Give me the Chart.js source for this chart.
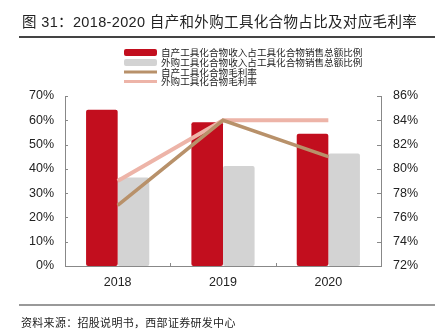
<!DOCTYPE html>
<html>
<head>
<meta charset="utf-8">
<script src="https://cdn.jsdelivr.net/npm/chart.js@4.4.0/dist/chart.umd.min.js"></script>
<style>
  html, body { margin: 0; padding: 0; background: #fff; }
  #wrap { position: relative; width: 439px; height: 335px; overflow: hidden; font-family: "Liberation Sans", Arial, "Noto Sans CJK SC", sans-serif; }
  #title { position: absolute; left: 22px; top: 10px; font-size: 14.5px; letter-spacing: 0.35px; color: #222; white-space: nowrap; font-family: "Liberation Sans", Arial, "Noto Sans CJK SC", sans-serif; }
  #topline { position: absolute; left: 19px; top: 36px; width: 416px; height: 2px; background: #444; }
  #botline { position: absolute; left: 19px; top: 304px; width: 416px; height: 2px; background: #999; }
  #source { position: absolute; left: 21px; top: 314px; font-size: 11px; letter-spacing: 0.3px; color: #222; white-space: nowrap; font-family: "Noto Sans CJK SC", sans-serif; }
  canvas { position: absolute; left: 0; top: 0; }
</style>
</head>
<body>
<div id="wrap">
  <canvas id="c" width="439" height="335"></canvas>
  <div id="title">图 31：2018-2020 自产和外购工具化合物占比及对应毛利率</div>
  <div id="topline"></div>
  <div id="botline"></div>
  <div id="source">资料来源：招股说明书，西部证券研发中心</div>
</div>
<script>
const categories = ['2018', '2019', '2020'];
const seriesNames = [
  '自产工具化合物收入占工具化合物销售总额比例',
  '外购工具化合物收入占工具化合物销售总额比例',
  '自产工具化合物毛利率',
  '外购工具化合物毛利率'
];
const selfShare = [64.3, 59.2, 54.5];
const purchasedShare = [36.4, 41.2, 46.3];
const selfMargin = [77, 84, 81];
const purchasedMargin = [79, 84, 84];
const leftTicks = [0, 10, 20, 30, 40, 50, 60, 70];
const rightTicks = [72, 74, 76, 78, 80, 82, 84, 86];

const RED = '#C20E1E', GRAY = '#D3D3D3', BROWN = '#B8916A', PINK = '#EDB4A8';
const AXIS = '#888888';

const legendPlugin = {
  id: 'customLegend',
  afterDraw(chart) {
    const ctx = chart.ctx;
    const ds = chart.data.datasets;
    const rows = [52.5, 62.5, 72, 81.5];
    ctx.save();
    ctx.font = '9.6px "Noto Sans CJK SC", sans-serif';
    ctx.textBaseline = 'middle';
    ds.forEach((d, i) => {
      const y = rows[i];
      if (d.type === 'bar') {
        ctx.fillStyle = d.backgroundColor;
        ctx.beginPath();
        ctx.roundRect(124, y - 3.5, 33, 7, 2);
        ctx.fill();
      } else {
        ctx.strokeStyle = d.borderColor;
        ctx.lineWidth = 3;
        ctx.beginPath();
        ctx.moveTo(124, y);
        ctx.lineTo(157, y);
        ctx.stroke();
      }
      ctx.fillStyle = '#222';
      ctx.fillText(d.label, 161, y);
    });
    ctx.restore();
  }
};

const tickPlugin = {
  id: 'innerTicks',
  afterDatasetsDraw(chart) {
    const ctx = chart.ctx;
    const ca = chart.chartArea;
    ctx.save();
    ctx.strokeStyle = AXIS;
    ctx.lineWidth = 1;
    const yl = chart.scales.y, yr = chart.scales.y2, x = chart.scales.x;
    yl.ticks.forEach(t => {
      const py = Math.round(yl.getPixelForValue(t.value)) + 0.5;
      ctx.beginPath(); ctx.moveTo(ca.left, py); ctx.lineTo(ca.left + 3, py); ctx.stroke();
    });
    yr.ticks.forEach(t => {
      const py = Math.round(yr.getPixelForValue(t.value)) + 0.5;
      ctx.beginPath(); ctx.moveTo(ca.right, py); ctx.lineTo(ca.right - 4, py); ctx.stroke();
    });
    for (let i = 1; i < categories.length; i++) {
      const px = Math.round((x.getPixelForValue(i - 1) + x.getPixelForValue(i)) / 2) + 0.5;
      ctx.beginPath(); ctx.moveTo(px, ca.bottom); ctx.lineTo(px, ca.bottom - 3); ctx.stroke();
    }
    ctx.restore();
  }
};

new Chart(document.getElementById('c'), {
  data: {
    labels: categories,
    datasets: [
      { type: 'bar', label: seriesNames[0], data: selfShare, backgroundColor: RED, yAxisID: 'y', order: 2,
        categoryPercentage: 0.6, barPercentage: 1.0, borderRadius: 2, borderSkipped: false },
      { type: 'bar', label: seriesNames[1], data: purchasedShare, backgroundColor: GRAY, yAxisID: 'y', order: 2,
        categoryPercentage: 0.6, barPercentage: 1.0, borderRadius: 2, borderSkipped: false },
      { type: 'line', label: seriesNames[2], data: selfMargin, borderColor: BROWN, backgroundColor: BROWN, borderWidth: 3.5,
        pointRadius: 0, yAxisID: 'y2', order: 0, tension: 0 },
      { type: 'line', label: seriesNames[3], data: purchasedMargin, borderColor: PINK, backgroundColor: PINK, borderWidth: 4,
        pointRadius: 0, yAxisID: 'y2', order: 1, tension: 0 }
    ]
  },
  options: {
    responsive: false,
    animation: false,
    layout: { padding: { top: 96, bottom: 0, left: 0, right: 0 } },
    plugins: { legend: { display: false }, tooltip: { enabled: false }, title: { display: false } },
    scales: {
      x: {
        offset: true,
        grid: { display: false, drawTicks: false },
        border: { display: true, color: AXIS, width: 1 },
        ticks: { padding: 9, color: '#222', font: { family: '"Liberation Sans", Arial, sans-serif', size: 12.5 } },
        afterFit(s) { s.height = 69; }
      },
      y: {
        position: 'left', min: 0, max: 70,
        afterBuildTicks(s) { s.ticks = leftTicks.map(v => ({ value: v })); },
        grid: { display: false, drawTicks: false },
        border: { display: true, color: AXIS, width: 1 },
        ticks: { padding: 11, color: '#222', font: { family: '"Liberation Sans", Arial, sans-serif', size: 12.5 },
                 callback: v => v + '%' },
        afterFit(s) { s.width = 65; }
      },
      y2: {
        position: 'right', min: 72, max: 86,
        afterBuildTicks(s) { s.ticks = rightTicks.map(v => ({ value: v })); },
        grid: { display: false, drawTicks: false },
        border: { display: true, color: AXIS, width: 1 },
        ticks: { padding: 12, color: '#222', font: { family: '"Liberation Sans", Arial, sans-serif', size: 12.5 },
                 callback: v => v + '%' },
        afterFit(s) { s.width = 58; }
      }
    }
  },
  plugins: [legendPlugin, tickPlugin]
});
</script>
</body>
</html>
